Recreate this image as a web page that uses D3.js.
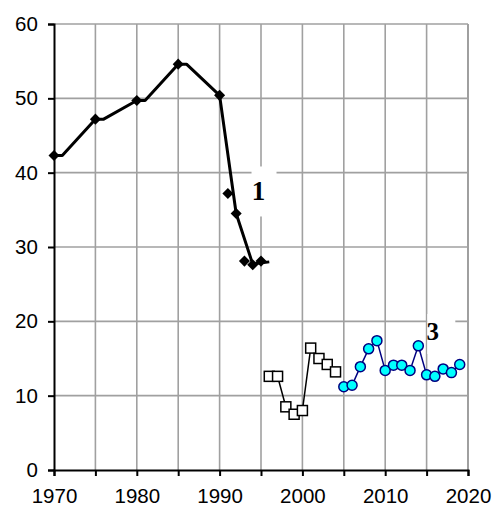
<!DOCTYPE html>
<html>
<head>
<meta charset="utf-8">
<script src="https://cdn.jsdelivr.net/npm/d3@7"></script>
<style>
html,body{margin:0;padding:0;background:#fff;}
svg{display:block;}
</style>
</head>
<body>
<div id="chart"></div>
<script>
// Series 1: black diamonds (markers)
const s1Years = [1970, 1975, 1980, 1985, 1990, 1991, 1992, 1993, 1994, 1995];
const s1Values = [42.3, 47.2, 49.7, 54.6, 50.4, 37.2, 34.5, 28.1, 27.6, 28.1];
// Series 1 trend line (thick black)
const t1Years = [1970, 1971, 1975, 1976, 1980, 1981, 1985, 1986, 1990, 1992, 1994, 1996];
const t1Values = [42.3, 42.3, 47.2, 47.2, 49.7, 49.7, 54.6, 54.6, 50.4, 34.5, 27.7, 28.0];
// Series 2: white squares
const s2Years = [1996, 1997, 1998, 1999, 2000, 2001, 2002, 2003, 2004];
const s2Values = [12.6, 12.6, 8.5, 7.5, 8.0, 16.4, 15.0, 14.2, 13.2];
// Series 3: cyan circles
const s3Years = [2005, 2006, 2007, 2008, 2009, 2010, 2011, 2012, 2013, 2014, 2015, 2016, 2017, 2018, 2019];
const s3Values = [11.2, 11.4, 13.9, 16.3, 17.4, 13.4, 14.1, 14.1, 13.4, 16.7, 12.8, 12.6, 13.6, 13.1, 14.2];
// Ticks
const xTicks = [1970, 1980, 1990, 2000, 2010, 2020];
const xGrid = [1975, 1980, 1985, 1990, 1995, 2000, 2005, 2010, 2015, 2020];
const yTicks = [0, 10, 20, 30, 40, 50, 60];
// Labels
const labelTexts = ["1", "3"];
const labelYears = [1994.7, 2015.75];
const labelValues = [37.2, 18.3];

const W = 493, H = 506;
const m = {left: 54, top: 24, right: 25, bottom: 36};
const svg = d3.select("#chart").append("svg").attr("width", W).attr("height", H);

const x = d3.scaleLinear().domain([1970, 2020]).range([m.left, W - m.right]);
const y = d3.scaleLinear().domain([0, 60]).range([H - m.bottom, m.top]);

const grid = svg.append("g");
grid.selectAll("line.v").data(xGrid).enter().append("line")
  .attr("x1", d => x(d)).attr("x2", d => x(d))
  .attr("y1", y(0)).attr("y2", y(60))
  .attr("stroke", d => d === 2020 ? "#888" : "#a0a0a0").attr("stroke-width", 1.6);
grid.selectAll("line.h").data(yTicks.filter(d => d > 0)).enter().append("line")
  .attr("x1", x(1970)).attr("x2", x(2020))
  .attr("y1", d => y(d)).attr("y2", d => y(d))
  .attr("stroke", "#a0a0a0").attr("stroke-width", 1.6);

// label boxes (white backgrounds)
const boxes = [
  {w: 25, h: 50, dx: -7, dy: -27},
  {w: 28, h: 40, dx: -5.5, dy: -20}
];
labelTexts.forEach((t, i) => {
  svg.append("rect")
    .attr("x", x(labelYears[i]) + boxes[i].dx)
    .attr("y", y(labelValues[i]) + boxes[i].dy)
    .attr("width", boxes[i].w).attr("height", boxes[i].h)
    .attr("fill", "#fff");
});

// axes
const axisFont = "Liberation Sans, Arial, sans-serif";
const xAxis = d3.axisBottom(x).tickValues(xGrid.concat([1970])).tickSize(6).tickFormat(d => xTicks.includes(d) ? d : "");
const gx = svg.append("g").attr("transform", `translate(0,${y(0)})`).call(xAxis);
gx.select(".domain").attr("stroke", "#000").attr("stroke-width", 2);
gx.selectAll(".tick line").attr("stroke", "#000").attr("stroke-width", 2);
gx.selectAll(".tick text").attr("font-family", axisFont).attr("font-size", 20.5).attr("fill", "#000").attr("dy", "1.15em");

const yAxis = d3.axisLeft(y).tickValues(yTicks).tickSize(6).tickFormat(d3.format("d"));
const gy = svg.append("g").attr("transform", `translate(${x(1970)},0)`).call(yAxis);
gy.select(".domain").attr("stroke", "#000").attr("stroke-width", 2);
gy.selectAll(".tick line").attr("stroke", "#000").attr("stroke-width", 2);
gy.selectAll(".tick text").attr("font-family", axisFont).attr("font-size", 20.5).attr("fill", "#000").attr("dx", "-0.35em");

const line = d3.line().x(d => x(d[0])).y(d => y(d[1]));

// series 1
svg.append("path").datum(d3.zip(t1Years, t1Values)).attr("d", line)
  .attr("fill", "none").attr("stroke", "#000").attr("stroke-width", 3).attr("stroke-linejoin", "round");
const diamond = d3.symbol().type(d3.symbolDiamond2).size(78);
svg.selectAll("path.s1").data(d3.zip(s1Years, s1Values)).enter().append("path")
  .attr("transform", d => `translate(${x(d[0])},${y(d[1])})`)
  .attr("d", diamond).attr("fill", "#000");

// series 2
svg.append("path").datum(d3.zip(s2Years, s2Values)).attr("d", line)
  .attr("fill", "none").attr("stroke", "#000").attr("stroke-width", 1.5);
svg.selectAll("rect.s2").data(d3.zip(s2Years, s2Values)).enter().append("rect")
  .attr("x", d => x(d[0]) - 5).attr("y", d => y(d[1]) - 5)
  .attr("width", 10).attr("height", 10)
  .attr("fill", "#fff").attr("stroke", "#000").attr("stroke-width", 1.5);

// series 3
svg.append("path").datum(d3.zip(s3Years, s3Values)).attr("d", line)
  .attr("fill", "none").attr("stroke", "#000080").attr("stroke-width", 1.5);
svg.selectAll("circle.s3").data(d3.zip(s3Years, s3Values)).enter().append("circle")
  .attr("cx", d => x(d[0])).attr("cy", d => y(d[1])).attr("r", 5)
  .attr("fill", "#00ffff").attr("stroke", "#000080").attr("stroke-width", 1.5);

// labels
const lsize = [27, 25];
labelTexts.forEach((t, i) => {
  svg.append("text")
    .attr("x", x(labelYears[i])).attr("y", y(labelValues[i]))
    .attr("text-anchor", "middle").attr("dominant-baseline", "middle")
    .attr("font-family", "Liberation Serif, Times New Roman, serif")
    .attr("font-weight", "bold").attr("font-size", lsize[i])
    .attr("fill", "#000").text(t);
});
</script>
</body>
</html>
